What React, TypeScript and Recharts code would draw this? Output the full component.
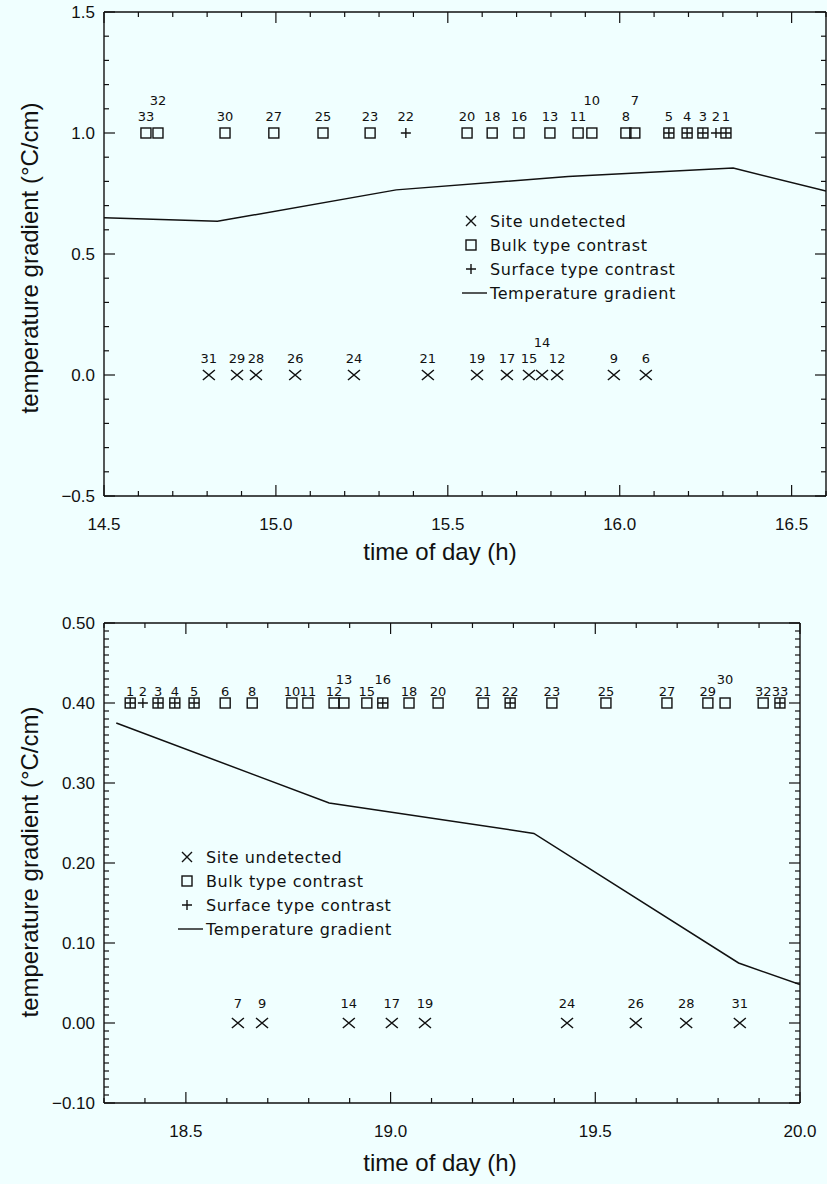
import React from 'react';
import { ComposedChart, Line, Scatter, XAxis, YAxis } from 'recharts';

// ---- upper panel (14.5 - 16.6 h) ----
const topGradientTime = [14.5, 14.83, 15.35, 15.85, 16.33, 16.6];
const topGradientValue = [0.65, 0.635, 0.765, 0.82, 0.855, 0.76];

const topDetectedIds = [33, 32, 30, 27, 25, 23, 22, 20, 18, 16, 13, 11, 10, 8, 7, 5, 4, 3, 2, 1];
const topDetectedTimes = [14.622, 14.657, 14.852, 14.994, 15.137, 15.274, 15.378, 15.556, 15.629, 15.707, 15.797, 15.879, 15.919, 16.018, 16.044, 16.143, 16.196, 16.242, 16.28, 16.309];
const topDetectedKinds = ['bulk', 'bulk', 'bulk', 'bulk', 'bulk', 'bulk', 'surface', 'bulk', 'bulk', 'bulk', 'bulk', 'bulk', 'bulk', 'bulk', 'bulk', 'both', 'both', 'both', 'surface', 'both'];
const topDetectedValue = 1.0;

const topUndetectedIds = [31, 29, 28, 26, 24, 21, 19, 17, 15, 14, 12, 9, 6];
const topUndetectedTimes = [14.805, 14.887, 14.942, 15.056, 15.227, 15.442, 15.585, 15.672, 15.736, 15.774, 15.818, 15.983, 16.076];
const topUndetectedValue = 0.0;
const topRaisedIds = [32, 10, 7, 14];

const topXMajor = [14.5, 15.0, 15.5, 16.0, 16.5];
const topYMajor = [-0.5, 0, 0.5, 1.0, 1.5];

// ---- lower panel (18.3 - 20.0 h) ----
const botGradientTime = [18.33, 18.85, 19.35, 19.85, 20.0];
const botGradientValue = [0.375, 0.275, 0.237, 0.075, 0.048];

const botDetectedIds = [1, 2, 3, 4, 5, 6, 8, 10, 11, 12, 13, 15, 16, 18, 20, 21, 22, 23, 25, 27, 29, 30, 32, 33];
const botDetectedTimes = [18.364, 18.395, 18.432, 18.473, 18.52, 18.596, 18.662, 18.759, 18.798, 18.862, 18.886, 18.942, 18.981, 19.045, 19.116, 19.226, 19.292, 19.394, 19.526, 19.675, 19.775, 19.817, 19.91, 19.951];
const botDetectedKinds = ['both', 'surface', 'both', 'both', 'both', 'bulk', 'bulk', 'bulk', 'bulk', 'bulk', 'bulk', 'bulk', 'both', 'bulk', 'bulk', 'bulk', 'both', 'bulk', 'bulk', 'bulk', 'bulk', 'bulk', 'bulk', 'both'];
const botDetectedValue = 0.4;

const botUndetectedIds = [7, 9, 14, 17, 19, 24, 26, 28, 31];
const botUndetectedTimes = [18.627, 18.686, 18.898, 19.003, 19.084, 19.431, 19.599, 19.722, 19.853];
const botUndetectedValue = 0.0;
const botRaisedIds = [13, 16, 30];

const botXMajor = [18.5, 19.0, 19.5, 20.0];
const botYMajor = [-0.1, 0, 0.1, 0.2, 0.3, 0.4, 0.5];

const legendItems = ['Site undetected', 'Bulk type contrast', 'Surface type contrast', 'Temperature gradient'];
const yTitle = 'temperature gradient (°C/cm)';
const xTitle = 'time of day (h)';

const steps = (from: number, to: number, step: number) => {
  const out: number[] = [];
  const n = Math.round((to - from) / step);
  for (let i = 0; i <= n; i++) out.push(Math.round((from + i * step) * 1000) / 1000);
  return out;
};

const ink = '#111';
const plotterFont = '"DejaVu Sans", sans-serif';

const fmt = (v: number, digits: number) => v.toFixed(digits).replace('-', '\u2212');

const makeTick = (side: string, majors: number[], digits: number) => (p: any) => {
  const v = p.payload.value;
  const major = majors.some((m) => Math.abs(m - v) < 1e-6);
  const len = major ? 11 : 5;
  const { x, y } = p;
  if (side === 'left')
    return (
      <g>
        <line x1={x} y1={y} x2={x + len} y2={y} stroke={ink} strokeWidth={1.2} />
        {major && (
          <text x={x - 9} y={y} textAnchor="end" dominantBaseline="central" fontSize={17} fill={ink}>
            {fmt(v, digits)}
          </text>
        )}
      </g>
    );
  if (side === 'right') return <line x1={x} y1={y} x2={x - len} y2={y} stroke={ink} strokeWidth={1.2} />;
  if (side === 'top') return <line x1={x} y1={y} x2={x} y2={y + len} stroke={ink} strokeWidth={1.2} />;
  return (
    <g>
      <line x1={x} y1={y} x2={x} y2={y - len} stroke={ink} strokeWidth={1.2} />
      {major && (
        <text x={x} y={y + 28} textAnchor="middle" dominantBaseline="central" fontSize={17} fill={ink}>
          {fmt(v, digits)}
        </text>
      )}
    </g>
  );
};

const makeMarker = (raised: number[], near: number, far: number) => (props: any) => {
  const { cx, cy, payload } = props;
  if (cx == null || cy == null) return <g />;
  const s = 5;
  const kind = payload.kind;
  const lift = raised.includes(payload.id) ? far : near;
  return (
    <g>
      {(kind === 'bulk' || kind === 'both') && (
        <rect x={cx - s} y={cy - s} width={2 * s} height={2 * s} fill="none" stroke={ink} strokeWidth={1.4} />
      )}
      {(kind === 'surface' || kind === 'both') && (
        <path d={`M${cx - s},${cy}H${cx + s}M${cx},${cy - s}V${cy + s}`} stroke={ink} strokeWidth={1.4} />
      )}
      {kind === 'undetected' && (
        <path d={`M${cx - 6},${cy - 5}L${cx + 6},${cy + 5}M${cx + 6},${cy - 5}L${cx - 6},${cy + 5}`} stroke={ink} strokeWidth={1.5} />
      )}
      <text x={cx} y={cy - lift} textAnchor="middle" dominantBaseline="central" fontSize={13} fontFamily={plotterFont} fill={ink}>
        {payload.id}
      </text>
    </g>
  );
};

const LegendBox = ({ left, top }: { left: number; top: number }) => (
  <svg style={{ position: 'absolute', left, top }} width={260} height={100}>
    {legendItems.map((label, i) => {
      const cy = 10 + i * 24;
      return (
        <g key={label}>
          {i === 0 && <path d={`M${4},${cy - 5}L${14},${cy + 5}M${14},${cy - 5}L${4},${cy + 5}`} stroke={ink} strokeWidth={1.4} />}
          {i === 1 && <rect x={4} y={cy - 5} width={10} height={10} fill="none" stroke={ink} strokeWidth={1.4} />}
          {i === 2 && <path d={`M${4},${cy}H${14}M${9},${cy - 5}V${cy + 5}`} stroke={ink} strokeWidth={1.4} />}
          {i === 3 && <line x1={-6} y1={cy} x2={25} y2={cy} stroke={ink} strokeWidth={1.4} />}
          <text x={28} y={cy} dominantBaseline="central" fontSize={16} fontFamily={plotterFont} fill={ink} letterSpacing={0.6}>
            {label}
          </text>
        </g>
      );
    })}
  </svg>
);

type PanelProps = {
  top: number;
  height: number;
  margin: { top: number; right: number; bottom: number; left: number };
  xDomain: [number, number];
  yDomain: [number, number];
  xMajor: number[];
  yMajor: number[];
  xMinorStep: number;
  yMinorStep: number;
  yDigits: number;
  bottomAxisHeight: number;
  line: { t: number; g: number }[];
  sites: { id: number; t: number; g: number; kind: string }[];
  raised: number[];
  near: number;
  far: number;
  nearX: number;
};

const Panel = (p: PanelProps) => {
  const xTicks = steps(p.xDomain[0], p.xDomain[1], p.xMinorStep);
  const yTicks = steps(p.yDomain[0], p.yDomain[1], p.yMinorStep);
  const detected = p.sites.filter((s) => s.kind !== 'undetected');
  const undetected = p.sites.filter((s) => s.kind === 'undetected');
  const axisLine = { stroke: ink, strokeWidth: 1.4 };
  return (
    <div style={{ position: 'absolute', left: 0, top: p.top }}>
      <ComposedChart width={827} height={p.height} margin={p.margin}>
        <XAxis xAxisId="b" type="number" dataKey="t" domain={p.xDomain} ticks={xTicks} interval={0} allowDataOverflow
          height={p.bottomAxisHeight} tickSize={0} tickMargin={0} tickLine={false} axisLine={axisLine}
          tick={makeTick('bottom', p.xMajor, 1)} />
        <XAxis xAxisId="t" orientation="top" type="number" dataKey="t" domain={p.xDomain} ticks={xTicks} interval={0}
          allowDataOverflow height={1} tickSize={0} tickMargin={0} tickLine={false} axisLine={axisLine}
          tick={makeTick('top', p.xMajor, 1)} />
        <YAxis yAxisId="l" type="number" domain={p.yDomain} ticks={yTicks} interval={0} allowDataOverflow width={104}
          tickSize={0} tickMargin={0} tickLine={false} axisLine={axisLine} tick={makeTick('left', p.yMajor, p.yDigits)} />
        <YAxis yAxisId="r" orientation="right" type="number" domain={p.yDomain} ticks={yTicks} interval={0}
          allowDataOverflow width={1} tickSize={0} tickMargin={0} tickLine={false} axisLine={axisLine}
          tick={makeTick('right', p.yMajor, p.yDigits)} />
        <Line xAxisId="b" yAxisId="l" data={p.line} dataKey="g" type="linear" stroke={ink} strokeWidth={1.5}
          dot={false} activeDot={false} isAnimationActive={false} />
        <Scatter xAxisId="b" yAxisId="l" data={detected} dataKey="g" shape={makeMarker(p.raised, p.near, p.far)}
          isAnimationActive={false} />
        <Scatter xAxisId="b" yAxisId="l" data={undetected} dataKey="g" shape={makeMarker(p.raised, p.nearX, p.far)}
          isAnimationActive={false} />
      </ComposedChart>
    </div>
  );
};

const zipSites = (ids: number[], times: number[], kinds: string[] | string, g: number) =>
  ids.map((id, i) => ({ id, t: times[i], g, kind: typeof kinds === 'string' ? kinds : kinds[i] }));

const topLine = topGradientTime.map((t, i) => ({ t, g: topGradientValue[i] }));
const botLine = botGradientTime.map((t, i) => ({ t, g: botGradientValue[i] }));
const topSites = [
  ...zipSites(topDetectedIds, topDetectedTimes, topDetectedKinds, topDetectedValue),
  ...zipSites(topUndetectedIds, topUndetectedTimes, 'undetected', topUndetectedValue),
];
const botSites = [
  ...zipSites(botDetectedIds, botDetectedTimes, botDetectedKinds, botDetectedValue),
  ...zipSites(botUndetectedIds, botUndetectedTimes, 'undetected', botUndetectedValue),
];

const titleStyle: React.CSSProperties = {
  position: 'absolute',
  fontSize: 24,
  color: ink,
  whiteSpace: 'nowrap',
  fontFamily: '"Liberation Sans", Arial, sans-serif',
};

export default function App() {
  return (
    <div
      style={{
        position: 'absolute',
        left: 0,
        top: 0,
        width: 827,
        height: 1184,
        background: '#f0ffff',
        overflow: 'hidden',
        fontFamily: '"Liberation Sans", Arial, sans-serif',
      }}
    >
      <Panel
        top={0}
        height={580}
        margin={{ top: 11, right: 0, bottom: 0, left: 0 }}
        xDomain={[14.5, 16.6]}
        yDomain={[-0.5, 1.5]}
        xMajor={topXMajor}
        yMajor={topYMajor}
        xMinorStep={0.1}
        yMinorStep={0.1}
        yDigits={1}
        bottomAxisHeight={84}
        line={topLine}
        sites={topSites}
        raised={topRaisedIds}
        near={17}
        far={33}
        nearX={17}
      />
      <LegendBox left={462} top={211} />
      <div style={{ ...titleStyle, left: 30, top: 258, transform: 'translate(-50%, -50%) rotate(-90deg)' }}>{yTitle}</div>
      <div style={{ ...titleStyle, left: 440, top: 552, transform: 'translate(-50%, -50%)' }}>{xTitle}</div>

      <Panel
        top={590}
        height={594}
        margin={{ top: 32, right: 26, bottom: 0, left: 0 }}
        xDomain={[18.3, 20.0]}
        yDomain={[-0.1, 0.5]}
        xMajor={botXMajor}
        yMajor={botYMajor}
        xMinorStep={0.1}
        yMinorStep={0.01}
        yDigits={2}
        bottomAxisHeight={81}
        line={botLine}
        sites={botSites}
        raised={botRaisedIds}
        near={12}
        far={24}
        nearX={20}
      />
      <LegendBox left={178} top={847} />
      <div style={{ ...titleStyle, left: 30, top: 862, transform: 'translate(-50%, -50%) rotate(-90deg)' }}>{yTitle}</div>
      <div style={{ ...titleStyle, left: 440, top: 1163, transform: 'translate(-50%, -50%)' }}>{xTitle}</div>
    </div>
  );
}
